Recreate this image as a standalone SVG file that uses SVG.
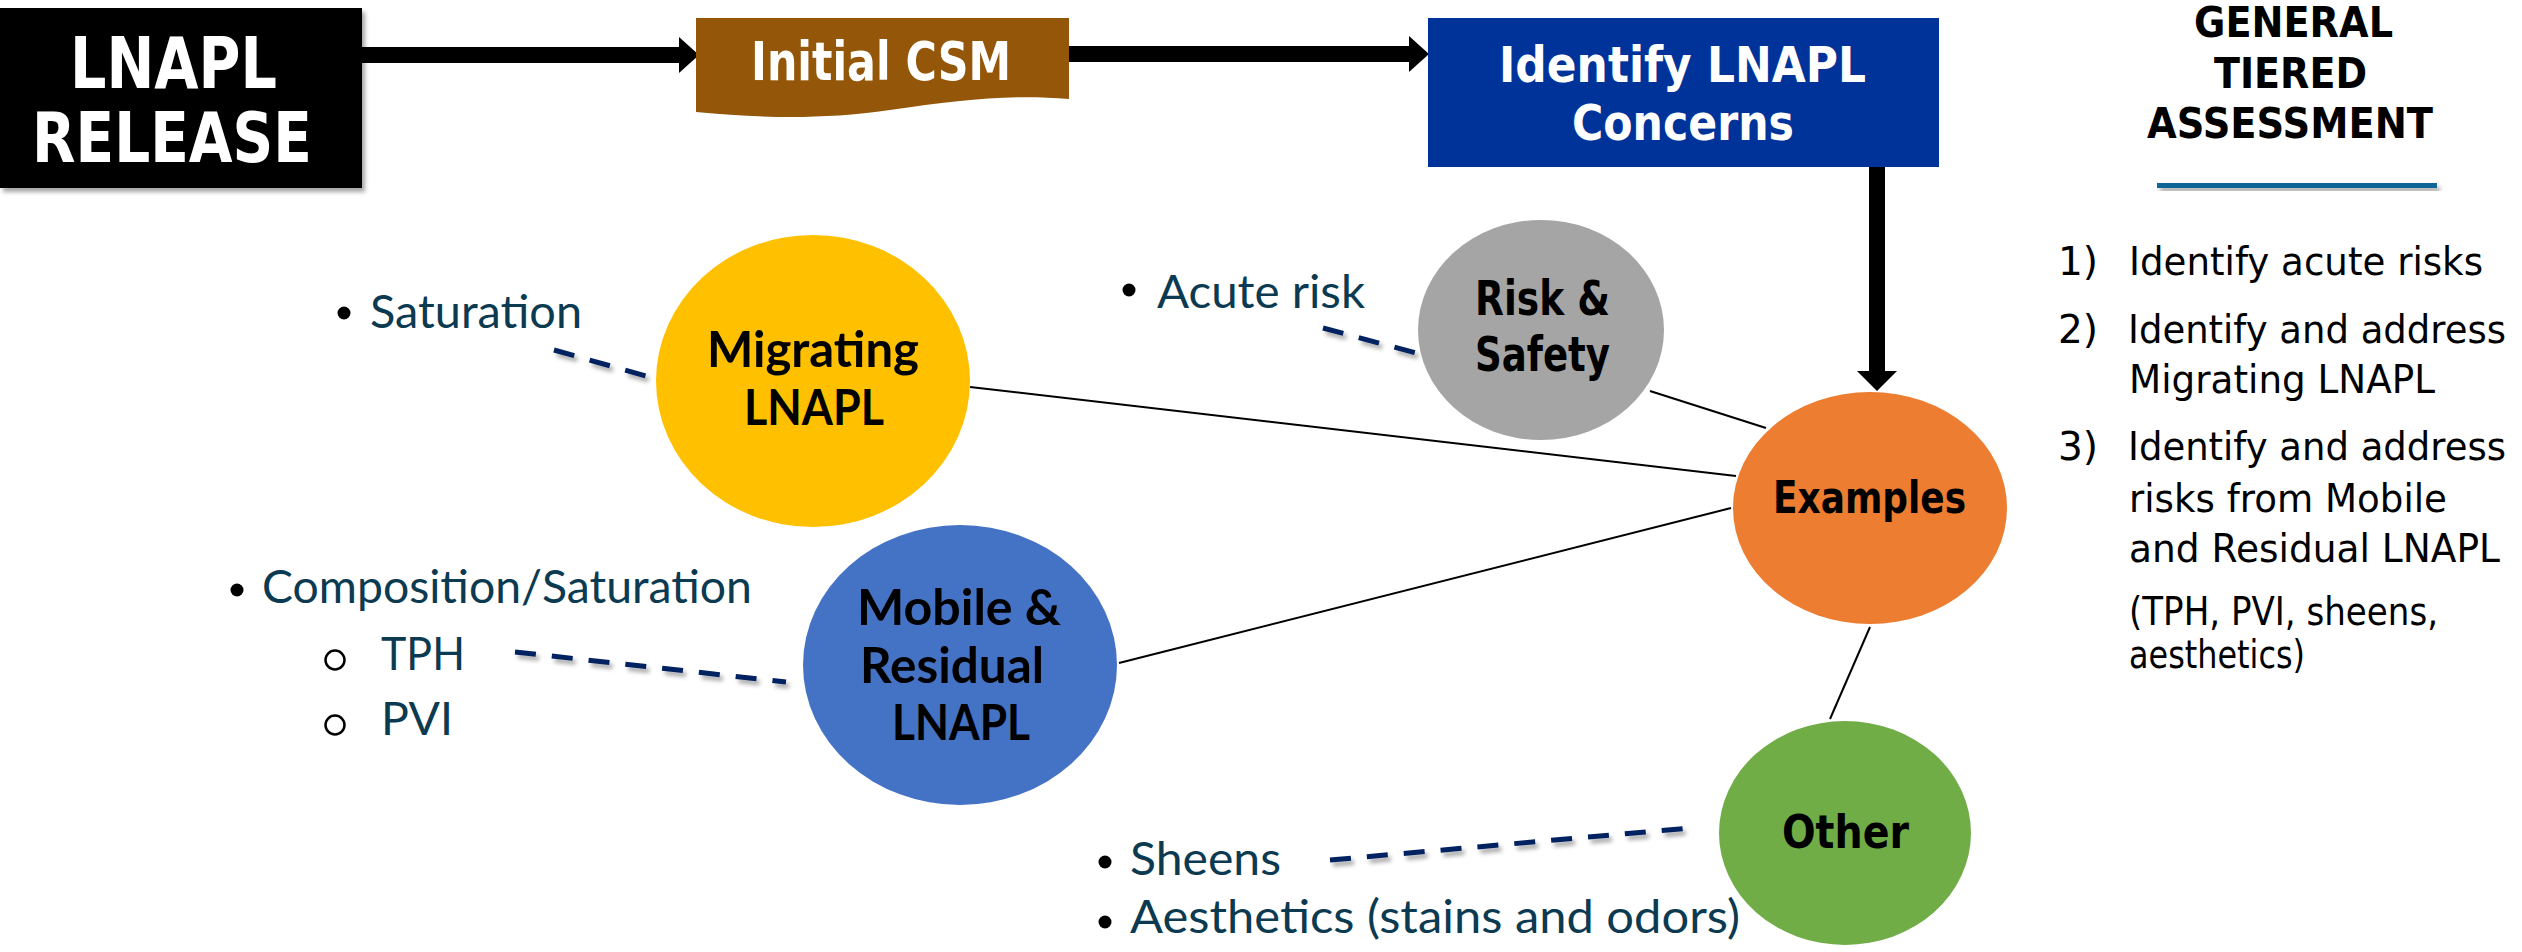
<svg xmlns="http://www.w3.org/2000/svg" width="2522" height="952" viewBox="0 0 2522 952">
<style>
.hd{font-family:"DejaVu Sans","Verdana",sans-serif;font-weight:bold;fill:#fff}
.nd{font-family:"DejaVu Sans","Verdana",sans-serif;font-weight:bold;fill:#000}
.cb{font-family:"Lato","Noto Sans",sans-serif;font-weight:bold;fill:#000}
.bl{font-family:"Lato","Noto Sans",sans-serif;font-size:47px;fill:#0B3A51}
.ls{font-family:"DejaVu Sans","Verdana",sans-serif;font-size:39px;fill:#000}
.con{stroke:#000;stroke-width:2;fill:none}
.dash{stroke:#002060;stroke-width:5;stroke-dasharray:21 16;fill:none}
.arr{stroke:#000;stroke-width:16;fill:none}
</style>
<defs>
<filter id="sh" x="-20%" y="-50%" width="140%" height="200%">
<feDropShadow dx="3" dy="4" stdDeviation="2" flood-color="#000" flood-opacity="0.35"/>
</filter>
<marker id="ah" markerUnits="userSpaceOnUse" markerWidth="20" markerHeight="36" refX="0" refY="18" orient="auto" viewBox="0 0 20 36">
<path d="M0,0 L20,18 L0,36 Z" fill="#000"/>
</marker>
<marker id="ahb" markerUnits="userSpaceOnUse" markerWidth="20" markerHeight="40" refX="0" refY="20" orient="auto" viewBox="0 0 20 40">
<path d="M0,0 L20,20 L0,40 Z" fill="#000"/>
</marker>
</defs>
<rect width="2522" height="952" fill="#fff"/>

<g id="connectors">
<line class="arr" x1="362" y1="55" x2="679" y2="55" marker-end="url(#ah)"/>
<line class="arr" x1="1068" y1="54" x2="1409" y2="54" marker-end="url(#ah)"/>
<line class="arr" x1="1877" y1="166" x2="1877" y2="371" marker-end="url(#ahb)"/>
<line class="con" x1="970" y1="387" x2="1736" y2="476"/>
<line class="con" x1="1650" y1="391" x2="1766" y2="428"/>
<line class="con" x1="1119" y1="663" x2="1731" y2="508"/>
<line class="con" x1="1870" y1="627" x2="1830" y2="719"/>
<g filter="url(#sh)">
<line class="dash" x1="554" y1="350" x2="646" y2="376"/>
<line class="dash" x1="1323" y1="328" x2="1416" y2="353"/>
<line class="dash" x1="515" y1="652" x2="786" y2="682"/>
<line class="dash" x1="1330" y1="860" x2="1690" y2="828"/>
</g>
</g>

<g id="lnapl-release">
<rect x="0" y="8" width="362" height="180" fill="#000" filter="url(#sh)"/>
<text class="hd" x="70" y="88" font-size="71" textLength="207" lengthAdjust="spacingAndGlyphs">LNAPL</text>
<text class="hd" x="32" y="162" font-size="70" textLength="280" lengthAdjust="spacingAndGlyphs">RELEASE</text>
</g>

<g id="initial-csm">
<path d="M696,18 H1069 V99 C1010,94 960,100 890,110 C820,120 760,118 696,112 Z" fill="#945709"/>
<text class="hd" x="751" y="80" font-size="54" textLength="260" lengthAdjust="spacingAndGlyphs">Initial CSM</text>
</g>

<g id="identify-concerns">
<rect x="1428" y="18" width="511" height="149" fill="#003399"/>
<text class="hd" x="1499" y="82" font-size="49" textLength="367" lengthAdjust="spacingAndGlyphs">Identify LNAPL</text>
<text class="hd" x="1572" y="140" font-size="49" textLength="222" lengthAdjust="spacingAndGlyphs">Concerns</text>
</g>

<g id="general-tiered">
<text class="nd" x="2194" y="37" font-size="42" textLength="199" lengthAdjust="spacingAndGlyphs">GENERAL</text>
<text class="nd" x="2214" y="88" font-size="42" textLength="153" lengthAdjust="spacingAndGlyphs">TIERED</text>
<text class="nd" x="2147" y="138" font-size="42" textLength="286" lengthAdjust="spacingAndGlyphs">ASSESSMENT</text>
<rect x="2157" y="183" width="280" height="5" fill="#0E6695" filter="url(#sh)"/>
</g>

<g id="steps">
<text class="ls" x="2058" y="275">1)</text>
<text class="ls" x="2129" y="275" textLength="354" lengthAdjust="spacingAndGlyphs">Identify acute risks</text>
<text class="ls" x="2058" y="343">2)</text>
<text class="ls" x="2128" y="343" textLength="378" lengthAdjust="spacingAndGlyphs">Identify and address</text>
<text class="ls" x="2129" y="393" textLength="306" lengthAdjust="spacingAndGlyphs">Migrating LNAPL</text>
<text class="ls" x="2058" y="460">3)</text>
<text class="ls" x="2128" y="460" textLength="378" lengthAdjust="spacingAndGlyphs">Identify and address</text>
<text class="ls" x="2129" y="512" textLength="318" lengthAdjust="spacingAndGlyphs">risks from Mobile</text>
<text class="ls" x="2129" y="562" textLength="371" lengthAdjust="spacingAndGlyphs">and Residual LNAPL</text>
<text class="ls" x="2129" y="625" font-size="35" textLength="309" lengthAdjust="spacingAndGlyphs">(TPH, PVI, sheens,</text>
<text class="ls" x="2129" y="668" font-size="35" textLength="176" lengthAdjust="spacingAndGlyphs">aesthetics)</text>
</g>

<g id="migrating-lnapl">
<ellipse cx="813" cy="381" rx="157" ry="146" fill="#FFC000"/>
<text class="cb" x="707" y="367" font-size="49" textLength="212" lengthAdjust="spacingAndGlyphs">Migrating</text>
<text class="cb" x="744" y="425" font-size="49" textLength="140" lengthAdjust="spacingAndGlyphs">LNAPL</text>
</g>

<g id="risk-safety">
<ellipse cx="1541" cy="330" rx="123" ry="110" fill="#A5A5A5"/>
<text class="nd" x="1475" y="315" font-size="48" textLength="135" lengthAdjust="spacingAndGlyphs">Risk &amp;</text>
<text class="nd" x="1475" y="371" font-size="48" textLength="135" lengthAdjust="spacingAndGlyphs">Safety</text>
</g>

<g id="examples">
<ellipse cx="1870" cy="508" rx="137" ry="116" fill="#ED7D31"/>
<text class="nd" x="1773" y="513" font-size="45" textLength="193" lengthAdjust="spacingAndGlyphs">Examples</text>
</g>

<g id="mobile-residual">
<ellipse cx="960" cy="665" rx="157" ry="140" fill="#4472C4"/>
<text class="cb" x="857" y="625" font-size="49" textLength="204" lengthAdjust="spacingAndGlyphs">Mobile &amp;</text>
<text class="cb" x="860" y="683" font-size="49" textLength="184" lengthAdjust="spacingAndGlyphs">Residual</text>
<text class="cb" x="892" y="740" font-size="49" textLength="138" lengthAdjust="spacingAndGlyphs">LNAPL</text>
</g>

<g id="other">
<ellipse cx="1845" cy="833" rx="126" ry="112" fill="#70AD47"/>
<text class="nd" x="1782" y="848" font-size="47" textLength="127" lengthAdjust="spacingAndGlyphs">Other</text>
</g>

<g id="note-saturation">
<circle cx="344" cy="313" r="6.5" fill="#000"/>
<text class="bl" x="370" y="328" textLength="212" lengthAdjust="spacingAndGlyphs">Saturation</text>
</g>

<g id="note-acute">
<circle cx="1129" cy="290" r="6.5" fill="#000"/>
<text class="bl" x="1157" y="308" textLength="208" lengthAdjust="spacingAndGlyphs">Acute risk</text>
</g>

<g id="note-composition">
<circle cx="237" cy="590" r="6.5" fill="#000"/>
<text class="bl" x="262" y="603" textLength="490" lengthAdjust="spacingAndGlyphs">Composition/Saturation</text>
<circle cx="335" cy="660" r="9.5" fill="none" stroke="#000" stroke-width="2.5"/>
<text class="bl" x="381" y="670" textLength="84" lengthAdjust="spacingAndGlyphs">TPH</text>
<circle cx="335" cy="725" r="9.5" fill="none" stroke="#000" stroke-width="2.5"/>
<text class="bl" x="381" y="735" textLength="72" lengthAdjust="spacingAndGlyphs">PVI</text>
</g>

<g id="note-other">
<circle cx="1105" cy="862" r="6.5" fill="#000"/>
<text class="bl" x="1130" y="875" textLength="151" lengthAdjust="spacingAndGlyphs">Sheens</text>
<circle cx="1105" cy="922" r="6.5" fill="#000"/>
<text class="bl" x="1130" y="933" textLength="610" lengthAdjust="spacingAndGlyphs">Aesthetics (stains and odors)</text>
</g>
</svg>
